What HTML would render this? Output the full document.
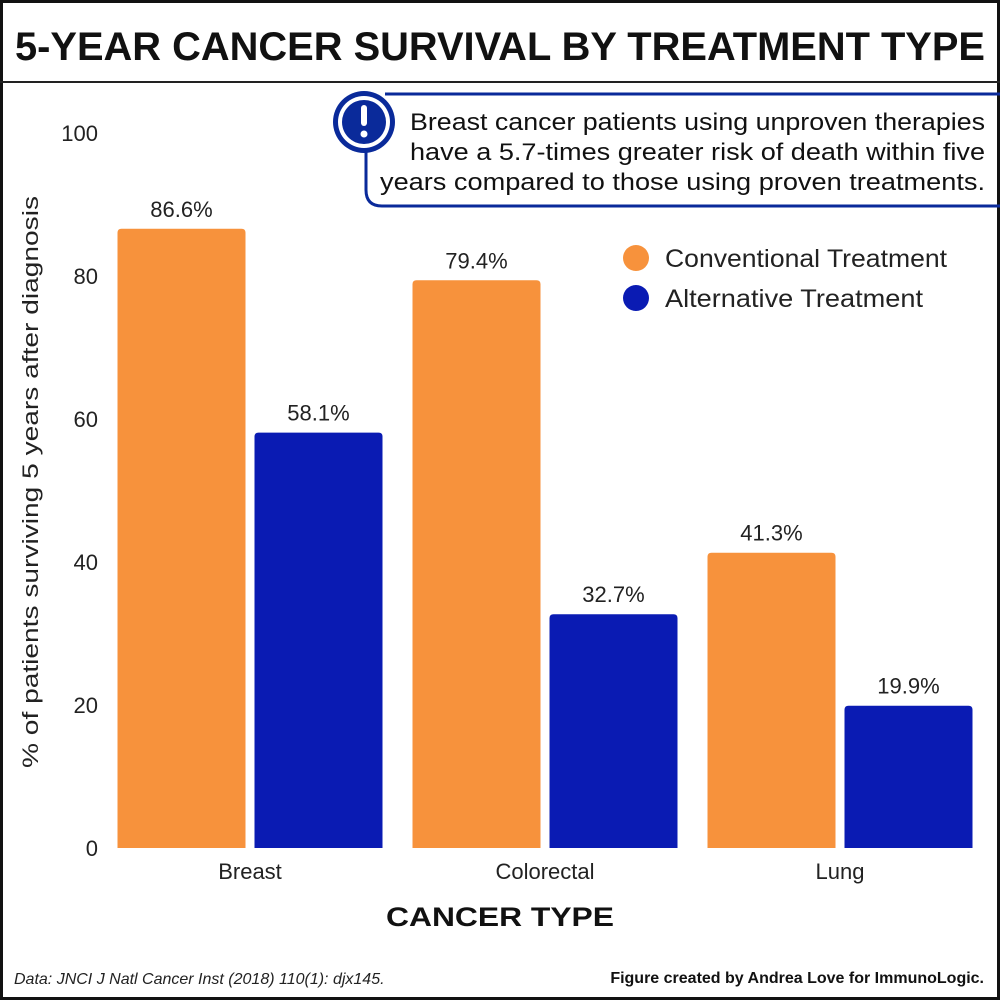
<!DOCTYPE html>
<html><head><meta charset="utf-8"><style>
body{margin:0;background:#fff}
svg text{font-family:"Liberation Sans",sans-serif}
</style></head><body>
<svg width="1000" height="1000" viewBox="0 0 1000 1000">
<rect x="1.5" y="1.5" width="997" height="997" fill="#fff" stroke="#111" stroke-width="3"/>
<line x1="0" y1="82" x2="1000" y2="82" stroke="#222" stroke-width="2"/>
<text x="500" y="60" text-anchor="middle" font-size="40" font-weight="bold" fill="#111" textLength="970" lengthAdjust="spacingAndGlyphs">5-YEAR CANCER SURVIVAL BY TREATMENT TYPE</text>
<g>
<path d="M385 94 H1000 M1000 206 H382 Q366 206 366 190 V152" fill="none" stroke="#0a2a9a" stroke-width="3"/>
<circle cx="364" cy="122" r="31" fill="#0a2a9a"/>
<circle cx="364" cy="122" r="26" fill="#fff"/>
<circle cx="364" cy="122" r="22" fill="#0a2a9a"/>
<rect x="361" y="105" width="6" height="21" rx="3" fill="#fff"/>
<circle cx="364" cy="134" r="3.5" fill="#fff"/>
<text x="985" y="130" text-anchor="end" font-size="24" fill="#111" textLength="575" lengthAdjust="spacingAndGlyphs">Breast cancer patients using unproven therapies</text>
<text x="985" y="160" text-anchor="end" font-size="24" fill="#111" textLength="575" lengthAdjust="spacingAndGlyphs">have a 5.7-times greater risk of death within five</text>
<text x="985" y="190" text-anchor="end" font-size="24" fill="#111" textLength="605" lengthAdjust="spacingAndGlyphs">years compared to those using proven treatments.</text>
</g>
<g>
<circle cx="636" cy="258" r="13" fill="#f7923c"/>
<text x="665" y="267" font-size="25" fill="#222" textLength="282" lengthAdjust="spacingAndGlyphs">Conventional Treatment</text>
<circle cx="636" cy="298" r="13" fill="#0a1bb3"/>
<text x="665" y="307" font-size="25" fill="#222" textLength="258" lengthAdjust="spacingAndGlyphs">Alternative Treatment</text>
</g>
<text transform="translate(38,482) rotate(-90)" text-anchor="middle" font-size="22" fill="#222" textLength="572" lengthAdjust="spacingAndGlyphs">% of patients surviving 5 years after diagnosis</text>
<text x="500" y="926" text-anchor="middle" font-size="27" font-weight="bold" fill="#111" textLength="228" lengthAdjust="spacingAndGlyphs">CANCER TYPE</text>
<text x="14" y="984" font-size="16" font-style="italic" fill="#222">Data: JNCI J Natl Cancer Inst (2018) 110(1): djx145.</text>
<text x="984" y="983" text-anchor="end" font-size="16" font-weight="bold" fill="#111">Figure created by Andrea Love for ImmunoLogic.</text>
<g id="plot"></g>
</svg>
<script>
const categories = ["Breast","Colorectal","Lung"];
const conventional = [86.6, 79.4, 41.3];
const alternative = [58.1, 32.7, 19.9];
const yTicks = [0,20,40,60,80,100];
const NS="http://www.w3.org/2000/svg";
const g=document.getElementById('plot');
const y0=848, pxPer=7.15;
const yScale=v=>y0-v*pxPer;
const groupCenter=i=>250+i*295;
const bw=128, gap=9;
function mk(tag,attrs,txt){const e=document.createElementNS(NS,tag);for(const k in attrs)e.setAttribute(k,attrs[k]);if(txt!==undefined)e.textContent=txt;g.appendChild(e);return e;}
yTicks.forEach(t=>{
  const e=mk('text',{x:98,y:yScale(t)+8,'text-anchor':'end','font-size':22,fill:'#222'},String(t));
  
  
});
categories.forEach((c,i)=>{
  const cx=groupCenter(i);
  [[conventional,'#f7923c',cx-gap/2-bw,'conventional'],[alternative,'#0a1bb3',cx+gap/2,'alternative']].forEach(([arr,col,x,nm])=>{
    const v=arr[i];
    const r=mk('path',{d:`M${x} ${y0} V${yScale(v)+4} Q${x} ${yScale(v)} ${x+4} ${yScale(v)} H${x+bw-4} Q${x+bw} ${yScale(v)} ${x+bw} ${yScale(v)+4} V${y0} Z`,fill:col});
    
    
    const l=mk('text',{x:x+bw/2,y:yScale(v)-12,'text-anchor':'middle','font-size':22,fill:'#222'},v.toFixed(1)+'%');
    
    
  });
  const t=mk('text',{x:cx,y:879,'text-anchor':'middle','font-size':22,fill:'#222'},c);
  
  
});
</script>
</body></html>
